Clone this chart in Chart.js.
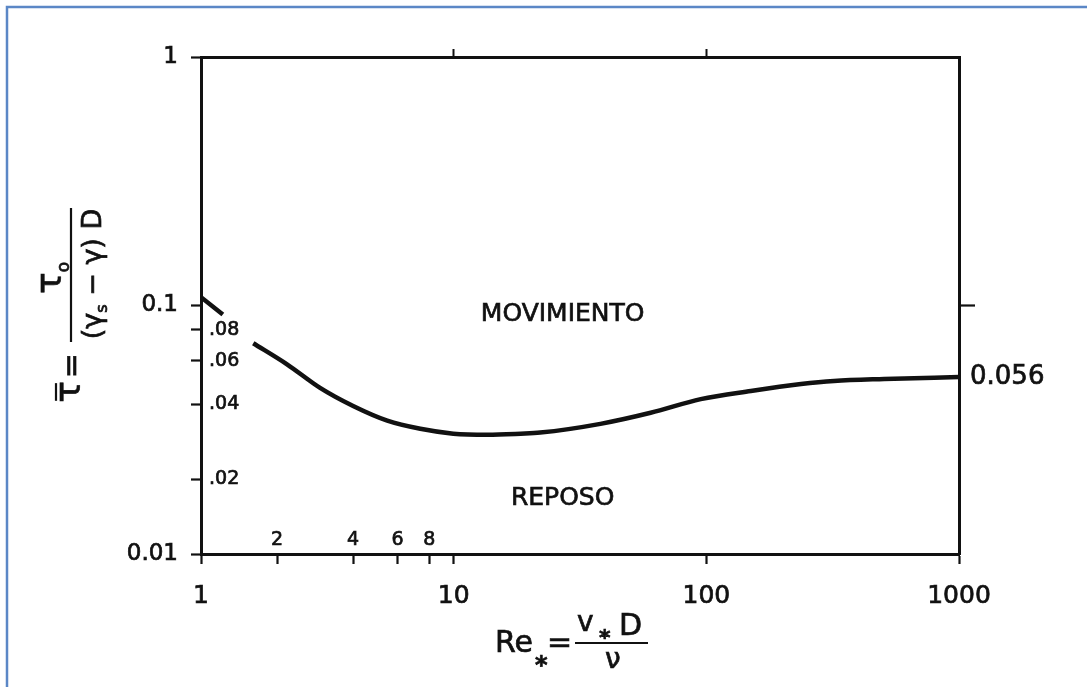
<!DOCTYPE html>
<html>
<head>
<meta charset="utf-8">
<script src="https://cdn.jsdelivr.net/npm/chart.js@4.4.1/dist/chart.umd.min.js"></script>
<style>
  html, body { margin: 0; padding: 0; background: #fff; }
  canvas { display: block; }
</style>
</head>
<body>
<canvas id="shields" width="1087" height="687"></canvas>
<script>
// Shields curve (Re* vs dimensionless shear stress)
const reValues  = [1, 1.22, 1.4, 1.61, 2.19, 2.96, 4.0, 5.46, 7.38, 9.97, 13.6, 18.4, 22.0, 38.1, 60.2, 95, 150, 237, 320, 505, 1000];
const tauValues = [0.108, 0.092, null, 0.0705, 0.058, 0.0466, 0.0394, 0.0344, 0.0319, 0.0305, 0.0302, 0.0305, 0.0308, 0.0334, 0.037, 0.042, 0.0453, 0.0483, 0.0497, 0.0506, 0.0515];

const xMajorTicks = [1, 10, 100, 1000];
const xMinorTicks = [2, 4, 6, 8];
const xTopTicks = [10, 100];
const yMajorTicks = [1, 0.1, 0.01];
const yMajorLabels = ['1', '0.1', '0.01'];
const yMinorTicks = [0.08, 0.06, 0.04, 0.02];
const yMinorLabels = ['.08', '.06', '.04', '.02'];
const yRightTicks = [0.1];
const asymptoteLabel = '0.056';

const zoneLabels = ['MOVIMIENTO', 'REPOSO'];
const zoneRe = [27, 27];
const zoneTau = [0.092, 0.0168];

const INK = '#111';
const FONT = '"DejaVu Sans", sans-serif';
const STROKE = 0.7; // thickens the thin glyphs a little, like the scan
const lastTau = tauValues[tauValues.length - 1];

const setTicks = list => scale => {
  scale.ticks = list.slice().sort((a, b) => a - b).map(v => ({ value: v }));
};

// white page + blue frame of the scanned figure
const framePlugin = {
  id: 'frame',
  beforeDraw(chart) {
    const ctx = chart.ctx;
    ctx.save();
    ctx.fillStyle = '#fff';
    ctx.fillRect(0, 0, chart.width, chart.height);
    ctx.strokeStyle = '#5b87c6';
    ctx.lineWidth = 2.5;
    ctx.beginPath();
    ctx.moveTo(7, chart.height);
    ctx.lineTo(7, 7);
    ctx.lineTo(chart.width, 7);
    ctx.stroke();
    ctx.restore();
  }
};

// zone names and the two axis formulas
const textPlugin = {
  id: 'texts',
  afterDraw(chart) {
    const ctx = chart.ctx;
    const sx = chart.scales.x, sy = chart.scales.y;
    const put = (t, x, y) => { ctx.fillText(t, x, y); ctx.strokeText(t, x, y); };
    ctx.save();
    ctx.fillStyle = INK;
    ctx.strokeStyle = INK;

    ctx.lineWidth = STROKE;
    ctx.font = '25px ' + FONT;
    ctx.textAlign = 'center';
    ctx.textBaseline = 'middle';
    zoneLabels.forEach((t, i) => {
      put(t, sx.getPixelForValue(zoneRe[i]), sy.getPixelForValue(zoneTau[i]));
    });

    // x title: Re* = v* D / nu
    ctx.textAlign = 'left';
    ctx.textBaseline = 'alphabetic';
    ctx.font = '30px ' + FONT;
    put('Re', 495, 652);
    ctx.font = 'bold 24px ' + FONT;
    put('*', 535, 673);
    ctx.font = '30px ' + FONT;
    put('=', 547, 652);
    ctx.font = '28px ' + FONT;
    put('v', 577, 631);
    ctx.font = 'bold 22px ' + FONT;
    put('*', 599, 645);
    ctx.font = '30px ' + FONT;
    put('D', 619, 635);
    ctx.font = '28px ' + FONT;
    put('\u03BD', 605, 668);
    ctx.lineWidth = 2.2;
    ctx.beginPath();
    ctx.moveTo(575, 643);
    ctx.lineTo(648, 643);
    ctx.stroke();

    // y title, rotated
    ctx.translate(71, 275);
    ctx.rotate(-Math.PI / 2);
    ctx.lineWidth = 2.2;
    ctx.beginPath();
    ctx.moveTo(-67, 0);
    ctx.lineTo(67, 0);
    ctx.stroke();
    ctx.lineWidth = STROKE;

    // numerator tau_o
    ctx.font = '36px ' + FONT;
    const wTau = ctx.measureText('\u03C4').width;
    ctx.font = '17px ' + FONT;
    const wO = ctx.measureText('o').width;
    let start = -3 - (wTau + wO) / 2;
    ctx.font = '36px ' + FONT;
    put('\u03C4', start, -10);
    ctx.font = '17px ' + FONT;
    put('o', start + wTau, -2);

    // denominator (gamma_s - gamma) D
    const partA = '(\u03B3', partS = 's', partB = ' \u2212 \u03B3) D';
    ctx.font = '27px ' + FONT;
    const wA = ctx.measureText(partA).width, wB = ctx.measureText(partB).width;
    ctx.font = '16px ' + FONT;
    const wS = ctx.measureText(partS).width;
    start = 1 - (wA + wS + wB) / 2;
    ctx.font = '27px ' + FONT;
    put(partA, start, 30);
    ctx.font = '16px ' + FONT;
    put(partS, start + wA, 36);
    ctx.font = '27px ' + FONT;
    put(partB, start + wA + wS, 30);

    // tau-bar =
    ctx.textAlign = 'right';
    ctx.font = '30px ' + FONT;
    put('=', -78, 10);
    const wEq = ctx.measureText('=').width;
    ctx.font = '36px ' + FONT;
    const tEnd = -78 - wEq - 3;
    const wT = ctx.measureText('\u03C4').width;
    put('\u03C4', tEnd, 9);
    ctx.lineWidth = 2.2;
    ctx.beginPath();
    ctx.moveTo(tEnd - wT + 2, -15);
    ctx.lineTo(tEnd - 2, -15);
    ctx.stroke();
    ctx.restore();
  }
};

const tickText = { textStrokeColor: INK, textStrokeWidth: STROKE };

const ctx = document.getElementById('shields').getContext('2d');
new Chart(ctx, {
  type: 'line',
  data: {
    datasets: [{
      data: reValues.map((re, i) => ({ x: re, y: tauValues[i] })),
      borderColor: INK,
      borderWidth: 4.5,
      pointRadius: 0,
      tension: 0.4,
      cubicInterpolationMode: 'monotone',
      spanGaps: false,
      fill: false
    }]
  },
  options: {
    responsive: false,
    animation: false,
    layout: { padding: 0 },
    plugins: { legend: { display: false }, tooltip: { enabled: false } },
    scales: {
      x: {
        type: 'logarithmic', position: 'bottom', weight: 1, min: 1, max: 1000,
        afterBuildTicks: setTicks(xMajorTicks.concat(xMinorTicks)),
        ticks: {
          ...tickText,
          autoSkip: false, maxRotation: 0, padding: 17, color: INK,
          font: { family: FONT, size: 25 },
          callback: v => xMajorTicks.includes(v) ? String(v) : ''
        },
        grid: { drawOnChartArea: false, tickLength: 10, tickWidth: 2.2, tickColor: INK },
        border: { color: INK, width: 3 },
        afterFit: s => { s.height = 133; }
      },
      xInner: {
        type: 'logarithmic', position: 'bottom', weight: 0, min: 1, max: 1000,
        afterBuildTicks: setTicks(xMinorTicks),
        ticks: {
          ...tickText,
          autoSkip: false, maxRotation: 0, mirror: true, padding: 3, color: INK,
          font: { family: FONT, size: 19 },
          callback: v => String(v)
        },
        grid: { display: false },
        border: { display: false },
        afterFit: s => { s.height = 0; }
      },
      xTop: {
        type: 'logarithmic', position: 'top', min: 1, max: 1000,
        afterBuildTicks: setTicks(xTopTicks),
        ticks: { autoSkip: false, callback: () => '', padding: 0 },
        grid: { drawOnChartArea: false, tickLength: 8, tickWidth: 2, tickColor: INK },
        border: { color: INK, width: 3 },
        afterFit: s => { s.height = 57; }
      },
      y: {
        type: 'logarithmic', position: 'left', weight: 1, min: 0.01, max: 1,
        afterBuildTicks: setTicks(yMajorTicks.concat(yMinorTicks)),
        ticks: {
          ...tickText,
          autoSkip: false, padding: 13, color: INK,
          font: { family: FONT, size: 23 },
          callback: v => {
            const i = yMajorTicks.indexOf(v);
            return i >= 0 ? yMajorLabels[i] : '';
          }
        },
        grid: { drawOnChartArea: false, tickLength: 10, tickWidth: 2.2, tickColor: INK },
        border: { color: INK, width: 3 },
        afterFit: s => { s.width = 201; }
      },
      yInner: {
        type: 'logarithmic', position: 'left', weight: 0, min: 0.01, max: 1,
        afterBuildTicks: setTicks(yMinorTicks),
        ticks: {
          ...tickText,
          autoSkip: false, mirror: true, padding: 8, color: INK,
          font: { family: FONT, size: 19 },
          callback: v => yMinorLabels[yMinorTicks.indexOf(v)]
        },
        grid: { display: false },
        border: { display: false },
        afterFit: s => { s.width = 0; }
      },
      yRight: {
        type: 'logarithmic', position: 'right', min: 0.01, max: 1,
        afterBuildTicks: setTicks(yRightTicks.concat([lastTau])),
        ticks: {
          ...tickText,
          autoSkip: false, padding: -5, color: INK,
          font: { family: FONT, size: 26 },
          callback: v => v === lastTau ? asymptoteLabel : ''
        },
        grid: {
          drawOnChartArea: false, tickLength: 16, tickWidth: 2.2,
          tickColor: c => (c.tick && c.tick.value === lastTau) ? 'rgba(0,0,0,0)' : INK
        },
        border: { color: INK, width: 3 },
        afterFit: s => { s.width = 128; }
      }
    }
  },
  plugins: [framePlugin, textPlugin]
});
</script>
</body>
</html>
